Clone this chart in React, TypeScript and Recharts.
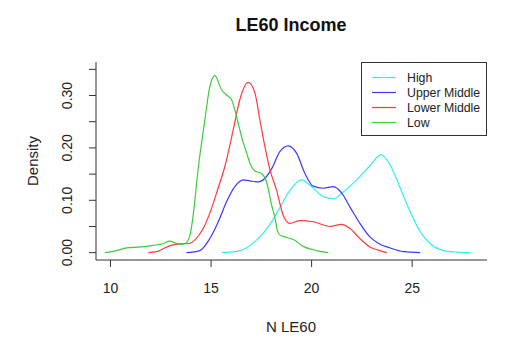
import React from 'react';
import { LineChart, Line, XAxis, YAxis } from 'recharts';

const seriesNames = ['High', 'Upper Middle', 'Lower Middle', 'Low'];
const seriesColors = ['#2ef0f0', '#3a3aff', '#ff3a3a', '#3ccc3c'];

const highX = [15.53, 16.43, 17.26, 17.93, 18.42, 18.92, 19.5, 20.0, 20.58, 21.08, 21.57, 22.24, 22.9, 23.45, 23.91, 24.41, 24.9, 25.4, 25.9, 26.56, 27.22, 27.89];
const highY = [0, 0.004, 0.024, 0.054, 0.086, 0.119, 0.139, 0.126, 0.107, 0.103, 0.116, 0.139, 0.166, 0.187, 0.167, 0.123, 0.078, 0.04, 0.017, 0.004, 0.001, 0];

const upperX = [13.78, 14.44, 14.94, 15.36, 15.77, 16.18, 16.6, 16.93, 17.34, 17.68, 18.01, 18.42, 18.84, 19.25, 19.67, 20.08, 20.58, 21.08, 21.49, 21.91, 22.4, 22.9, 23.31, 23.91, 24.57, 25.4];
const upperY = [0, 0.004, 0.027, 0.059, 0.097, 0.126, 0.139, 0.137, 0.135, 0.142, 0.16, 0.193, 0.204, 0.19, 0.151, 0.127, 0.123, 0.126, 0.114, 0.087, 0.056, 0.03, 0.018, 0.009, 0.002, 0];

const lowerX = [11.88, 12.3, 12.7, 13.1, 13.53, 13.95, 14.19, 14.61, 15.02, 15.35, 15.69, 16.1, 16.43, 16.85, 17.18, 17.43, 17.68, 17.93, 18.26, 18.59, 18.92, 19.42, 20.08, 20.91, 21.49, 21.91, 22.4, 22.9, 23.4, 23.74];
const lowerY = [0, 0.002, 0.009, 0.015, 0.017, 0.018, 0.024, 0.046, 0.084, 0.123, 0.165, 0.234, 0.292, 0.325, 0.305, 0.253, 0.202, 0.158, 0.119, 0.071, 0.056, 0.061, 0.059, 0.05, 0.054, 0.046, 0.027, 0.011, 0.004, 0];

const lowX = [9.72, 10.3, 10.8, 11.5, 12.12, 12.6, 12.95, 13.2, 13.45, 13.7, 13.95, 14.11, 14.36, 14.69, 14.94, 15.19, 15.52, 15.77, 16.02, 16.18, 16.35, 16.52, 16.77, 17.01, 17.18, 17.51, 17.76, 18.01, 18.17, 18.3, 18.42, 18.76, 19.09, 19.58, 20.25, 20.83];
const lowY = [0, 0.004, 0.009, 0.011, 0.014, 0.017, 0.022, 0.019, 0.016, 0.017, 0.033, 0.071, 0.16, 0.253, 0.317, 0.338, 0.311, 0.301, 0.292, 0.273, 0.247, 0.221, 0.19, 0.164, 0.156, 0.151, 0.135, 0.091, 0.068, 0.042, 0.034, 0.029, 0.025, 0.012, 0.004, 0];

const xTicks = [10, 15, 20, 25];
const yTicks = [0, 0.05, 0.1, 0.15, 0.2, 0.25, 0.3, 0.35];
const yLabelled = [0, 0.1, 0.2, 0.3];

const X_DOMAIN: [number, number] = [9.28, 28.72];
const Y_DOMAIN: [number, number] = [-0.014, 0.364];

const zip = (xs: number[], ys: number[]) => xs.map((x, i) => ({ x, y: ys[i] }));
const seriesData = [zip(highX, highY), zip(upperX, upperY), zip(lowerX, lowerY), zip(lowX, lowY)];

const FONT = '"Liberation Sans", Arial, Helvetica, sans-serif';
const AXIS_COLOR = '#333';

const YTick = (props: any) => {
  const { x, y, payload } = props;
  const v = payload.value;
  if (!yLabelled.some((t) => Math.abs(t - v) < 1e-9)) return null;
  return (
    <text
      x={x}
      y={y}
      transform={`rotate(-90 ${x} ${y})`}
      textAnchor="middle"
      fontSize={14}
      fontFamily={FONT}
      fill="#222"
    >
      {v.toFixed(2)}
    </text>
  );
};

export default function App() {
  return (
    <div style={{ position: 'absolute', left: 0, top: 0, width: 532, height: 342, background: '#fff', fontFamily: FONT }}>
      <LineChart width={532} height={342} margin={{ top: 62, right: 45, bottom: 52, left: 36 }}>
        <XAxis
          dataKey="x"
          type="number"
          domain={X_DOMAIN}
          allowDataOverflow
          ticks={xTicks}
          tickSize={7}
          tickMargin={16}
          height={30}
          stroke={AXIS_COLOR}
          axisLine={{ stroke: AXIS_COLOR }}
          tickLine={{ stroke: AXIS_COLOR }}
          tick={{ fontSize: 14, fill: '#222', fontFamily: FONT }}
        />
        <XAxis
          xAxisId="top"
          orientation="top"
          type="number"
          domain={X_DOMAIN}
          allowDataOverflow
          height={0}
          tick={false}
          tickLine={false}
          axisLine={{ stroke: AXIS_COLOR }}
        />
        <YAxis
          type="number"
          domain={Y_DOMAIN}
          allowDataOverflow
          ticks={yTicks}
          interval={0}
          tickSize={7}
          tickMargin={17}
          width={60}
          axisLine={{ stroke: AXIS_COLOR }}
          tickLine={{ stroke: AXIS_COLOR }}
          tick={<YTick />}
        />
        <YAxis
          yAxisId="right"
          orientation="right"
          type="number"
          domain={Y_DOMAIN}
          allowDataOverflow
          width={0}
          tick={false}
          tickLine={false}
          axisLine={{ stroke: AXIS_COLOR }}
        />
        {seriesData.map((d, i) => (
          <Line
            key={seriesNames[i]}
            name={seriesNames[i]}
            data={d}
            dataKey="y"
            type="monotone"
            stroke={seriesColors[i]}
            strokeWidth={1.2}
            dot={false}
            activeDot={false}
            isAnimationActive={false}
          />
        ))}
      </LineChart>
      <svg width={532} height={342} style={{ position: 'absolute', left: 0, top: 0, pointerEvents: 'none' }}>
        <text x={291} y={31} textAnchor="middle" fontSize={18} fontWeight="bold" fontFamily={FONT} fill="#111">
          LE60 Income
        </text>
        <text x={291} y={331.5} textAnchor="middle" fontSize={15} fontFamily={FONT} fill="#222">
          N LE60
        </text>
        <text x={37.5} y={161} transform="rotate(-90 37.5 161)" textAnchor="middle" fontSize={15} fontFamily={FONT} fill="#222">
          Density
        </text>
        <rect x={361.5} y={62.5} width={125} height={73} fill="#fff" stroke={AXIS_COLOR} strokeWidth={1} />
        {seriesNames.map((n, i) => (
          <g key={n}>
            <line x1={372} x2={396} y1={77.5 + i * 15} y2={77.5 + i * 15} stroke={seriesColors[i]} strokeWidth={1.2} />
            <text x={407} y={77.5 + i * 15 + 4.3} fontSize={12.3} fontFamily={FONT} fill="#222">
              {n}
            </text>
          </g>
        ))}
      </svg>
    </div>
  );
}
